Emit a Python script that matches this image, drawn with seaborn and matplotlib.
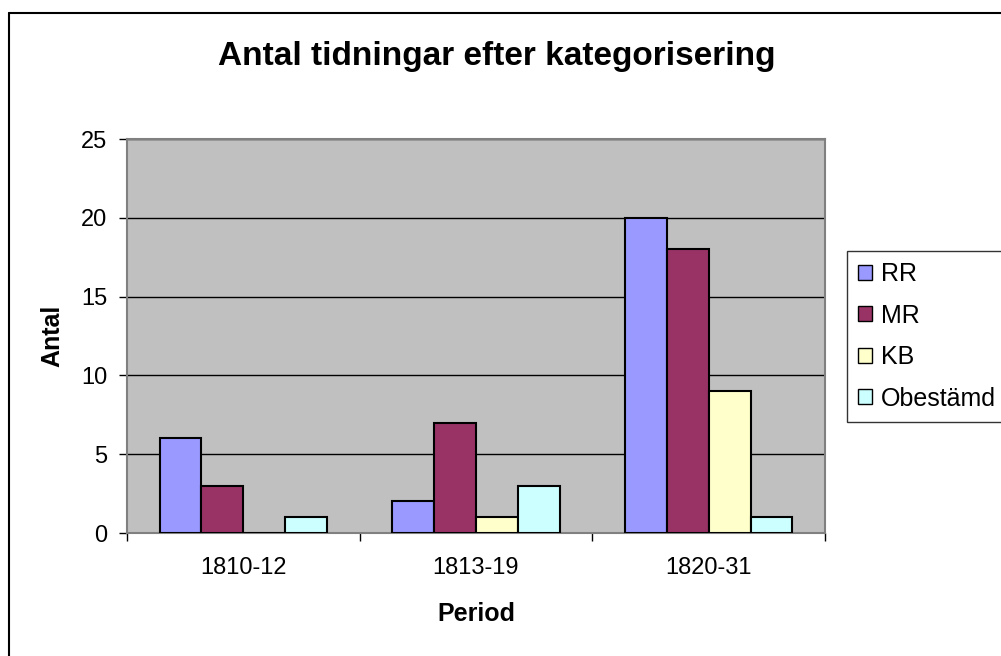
import pandas as pd
import seaborn as sns
import matplotlib.pyplot as plt
from matplotlib.lines import Line2D

# Chart data
periods = ['1810-12', '1813-19', '1820-31']
categories = ['RR', 'MR', 'KB', 'Obestämd']
rr = [6, 2, 20]
mr = [3, 7, 18]
kb = [0, 1, 9]
obestamd = [1, 3, 1]
colors = ['#9999FF', '#993366', '#FFFFCC', '#CCFFFF']

# Long format table for seaborn
rows = []
for cat, vals in zip(categories, [rr, mr, kb, obestamd]):
    for p, v in zip(periods, vals):
        rows.append({'Period': p, 'Kategori': cat, 'Antal': v})
df = pd.DataFrame(rows)

sns.set_style('white')
plt.rcParams['font.family'] = ['Liberation Sans', 'DejaVu Sans']
plt.rcParams['text.color'] = 'black'
plt.rcParams['axes.labelcolor'] = 'black'
plt.rcParams['xtick.color'] = 'black'
plt.rcParams['ytick.color'] = 'black'

W, H = 1001, 656
fig = plt.figure(figsize=(W / 100, H / 100), dpi=100)
ax = fig.add_axes([127 / W, 1 - 533 / H, (825 - 127) / W, (533 - 139) / H])
ax.set_facecolor('#C0C0C0')

sns.barplot(data=df, x='Period', y='Antal', hue='Kategori', order=periods,
            hue_order=categories, palette=colors, width=0.72,
            edgecolor='black', linewidth=1.5, saturation=1, ax=ax, zorder=3)

ax.set_ylim(0, 25)
ax.set_yticks([0, 5, 10, 15, 20, 25])
ax.set_xlim(-0.5, 2.5)
ax.yaxis.grid(True, color='black', linewidth=1, zorder=1)
ax.set_axisbelow(True)

for s in ['top', 'right', 'left', 'bottom']:
    ax.spines[s].set_color('#808080')
    ax.spines[s].set_linewidth(1.5)

ax.tick_params(axis='y', which='major', direction='out', length=6, width=1,
               color='black', labelcolor='black', labelsize=17, pad=8, left=True)
ax.tick_params(axis='x', which='major', length=0, labelcolor='black',
               labelsize=17, pad=17)
ax.set_xticks([-0.5, 0.5, 1.5, 2.5], minor=True)
ax.tick_params(axis='x', which='minor', direction='out', length=6, width=1,
               color='black', bottom=True)

ax.set_xlabel('Period', fontsize=18, fontweight='bold', color='black')
ax.set_ylabel('Antal', fontsize=18, fontweight='bold', color='black')
ax.xaxis.set_label_coords(0.5, (533 - 614) / 394)
ax.xaxis.label.set_va('center')
ax.yaxis.set_label_coords((52 - 127) / 698, 0.5)
ax.yaxis.label.set_va('center')

fig.text(497 / W, 1 - 57 / H, 'Antal tidningar efter kategorisering',
         fontsize=24, fontweight='bold', ha='center', va='center', color='black')

# Legend on the right, partly cut off like the original
handles, labels = ax.get_legend_handles_labels()
ax.get_legend().remove()
leg = fig.legend(handles, labels, loc='upper left',
                 bbox_to_anchor=(847 / W, 1 - 251 / H),
                 fontsize=18, frameon=True, fancybox=False, shadow=False,
                 handlelength=0.55, handleheight=0.55, handletextpad=0.35,
                 labelspacing=0.7, borderpad=0.45, borderaxespad=0)
leg.get_frame().set_edgecolor('black')
leg.get_frame().set_linewidth(1)
for h in leg.legend_handles:
    h.set_edgecolor('black')
    h.set_linewidth(1)
for t in leg.get_texts():
    t.set_color('black')

# Outer chart frame (left and top edges visible)
fig.add_artist(Line2D([9 / W, 9 / W], [0, 1 - 13 / H], transform=fig.transFigure,
                      color='black', linewidth=1.5))
fig.add_artist(Line2D([9 / W, 1], [1 - 13 / H, 1 - 13 / H], transform=fig.transFigure,
                      color='black', linewidth=1.5))

fig.savefig('out.png', dpi=100)
